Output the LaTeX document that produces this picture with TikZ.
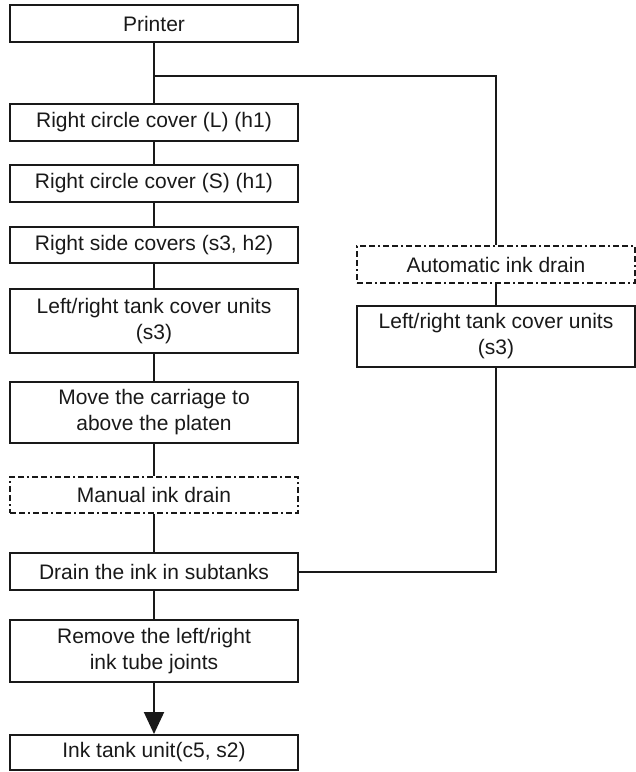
\documentclass[tikz,border=0pt]{standalone}
\usepackage{fontspec}
\setmainfont{Liberation Sans}
\usetikzlibrary{arrows.meta}
\begin{document}
\begin{tikzpicture}[x=1pt,y=-1pt,
  box/.style={draw=black!90,line width=2pt,align=center,inner sep=0pt,
    minimum width=288pt,text=black!90,
    font=\fontsize{21}{26}\selectfont},
  rbox/.style={box,minimum width=278pt},
  dbox/.style={dash pattern=on 6pt off 3pt on 6pt off 3pt on 2pt off 3pt},
  link/.style={draw=black!90,line width=2pt},
  tip/.style={-{Triangle[width=20pt,length=22pt]}}]
\useasboundingbox (0,0) rectangle (636,772);
\clip (0,0) rectangle (636,772);
% main column
\node[box,minimum height=37pt] (printer) at (154,23.5) {Printer};
\node[box,minimum height=37pt] (rcl) at (154,122.5) {Right circle cover (L) (h1)};
\node[box,minimum height=37pt] (rcs) at (154,183.5) {Right circle cover (S) (h1)};
\node[box,minimum height=36pt] (rsc) at (154,245) {Right side covers (s3, h2)};
\node[box,minimum height=64pt] (lrt) at (154,321) {Left/right tank cover units\\(s3)};
\node[box,minimum height=61pt] (move) at (154,412.5) {Move the carriage to\\above the platen};
\node[box,dbox,minimum height=36pt] (manual) at (154,495) {Manual ink drain};
\node[box,minimum height=37pt] (drain) at (154,571.5) {Drain the ink in subtanks};
\node[box,minimum height=62pt] (remove) at (154,651) {Remove the left/right\\ink tube joints};
\node[box,minimum height=35pt] (tank) at (154,752.5) {Ink tank unit(c5, s2)};
% side branch
\node[rbox,dbox,minimum height=37pt] (auto) at (496,264.5) {Automatic ink drain};
\node[rbox,minimum height=61pt] (lrt2) at (496,336.5) {Left/right tank cover units\\(s3)};
\coordinate (br) at (154,76);
% connectors
\draw[link] (printer) -- (rcl);
\draw[link] (br) -| (auto.north);
\draw[link] (rcl) -- (rcs);
\draw[link] (rcs) -- (rsc);
\draw[link] (rsc) -- (lrt);
\draw[link] (lrt) -- (move);
\draw[link] (move) -- (manual);
\draw[link] (manual) -- (drain);
\draw[link] (drain) -- (remove);
\draw[link,tip] (remove) -- (tank);
\draw[link] (auto) -- (lrt2);
\draw[link] (lrt2.south) |- (drain.east);
\end{tikzpicture}
\end{document}
